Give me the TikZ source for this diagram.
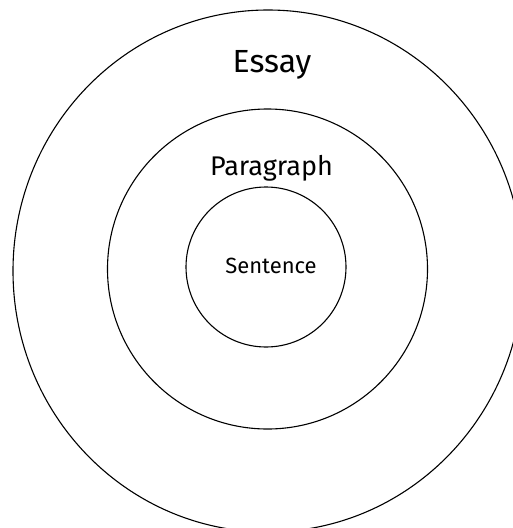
\documentclass[tikz,border=0pt]{standalone}
\usepackage{fontspec}
\setmainfont{Fira Sans}
\begin{document}
\begin{tikzpicture}[x=1pt,y=-1pt,
  ring/.style={draw=black,line width=1.1pt},
  lbl/.style={inner sep=0pt,anchor=base,text=black}]
\useasboundingbox (0,0) rectangle (513,528);
\clip (0,0) rectangle (513,528);
\fill[white] (0,0) rectangle (513,528);
\draw[ring] (268,271) ellipse [x radius=255, y radius=261];
\draw[ring] (267.5,269) circle [radius=160];
\draw[ring] (266,267) circle [radius=80];
\node[lbl,font=\fontsize{32}{36}\selectfont] (essay) at (272,72) {Essay};
\node[lbl,font=\fontsize{27}{31}\selectfont] (para) at (271.5,175) {Paragraph};
\node[lbl,font=\fontsize{22}{26}\selectfont] (sent) at (271,273) {Sentence};
\end{tikzpicture}
\end{document}
